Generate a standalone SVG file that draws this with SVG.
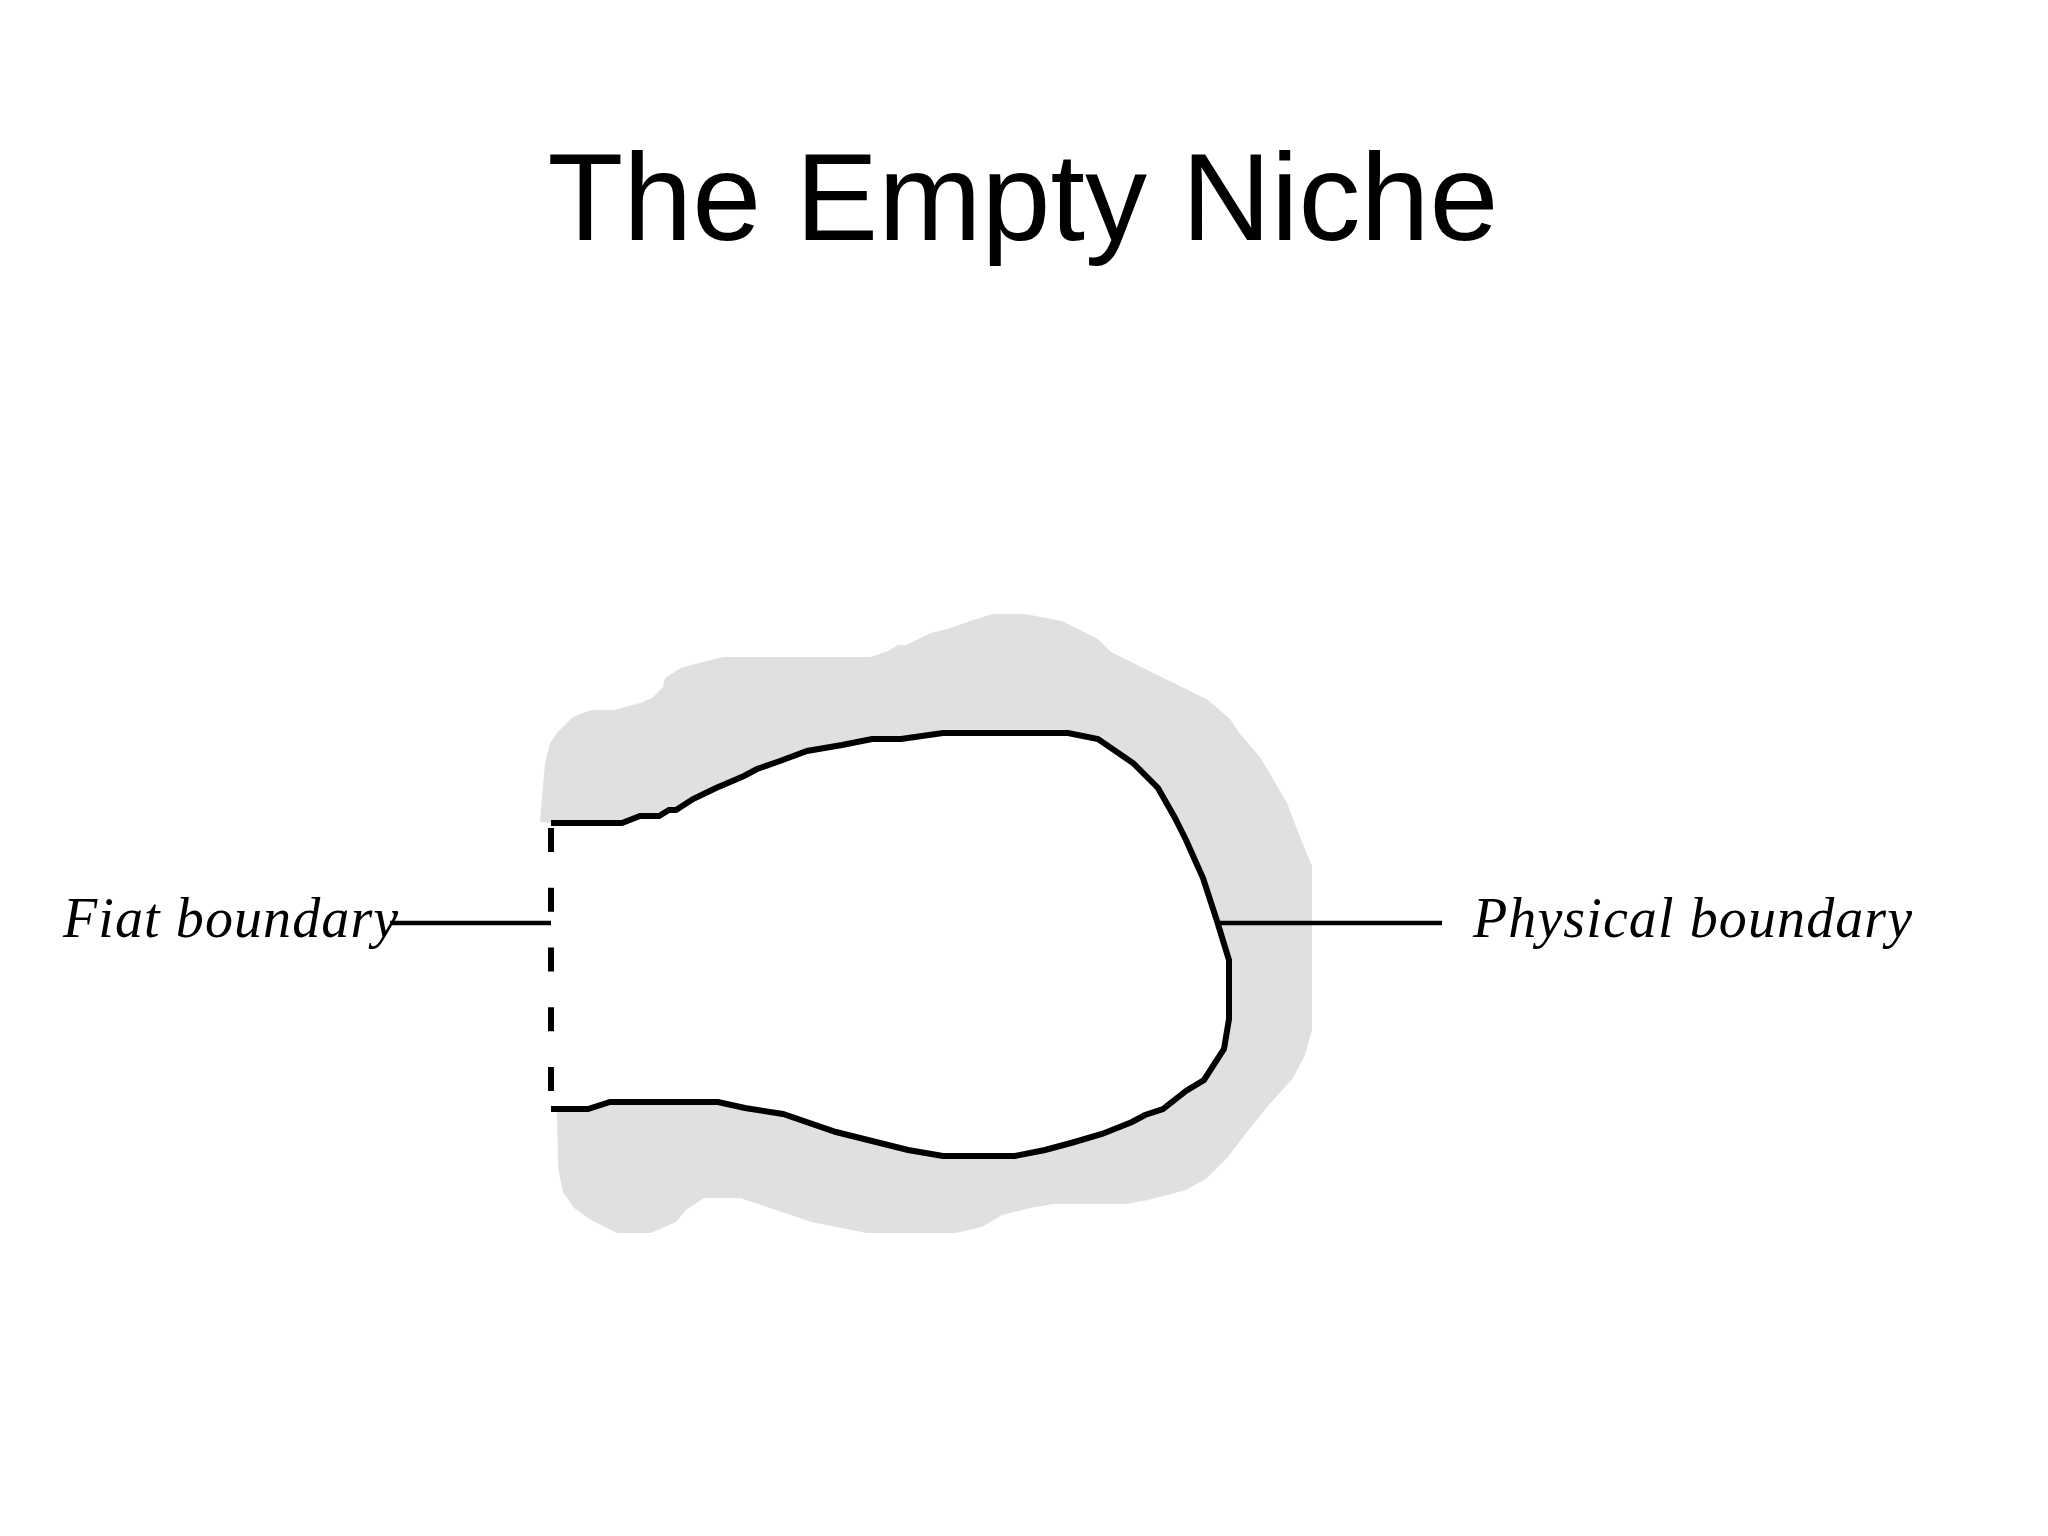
<svg xmlns="http://www.w3.org/2000/svg" width="2048" height="1536" viewBox="0 0 2048 1536">
<style>
.title{font-family:"Liberation Sans",Arial,sans-serif;font-size:124px;fill:#000}
.label{font-family:"Liberation Serif","Times New Roman",serif;font-style:italic;font-size:56px;letter-spacing:1.1px;fill:#000}
.bound{fill:none;stroke:#000;stroke-width:6}
.conn{fill:none;stroke:#000;stroke-width:4.5}
</style>
<rect width="2048" height="1536" fill="#fff"/>
<text class="title" x="1023" y="240" text-anchor="middle">The Empty Niche</text>
<g id="niche">
<polygon fill="#e0e0e0" points="540,822 545,763 550,743 557,733 573,717 591,710 614,710 640,703 652,698 663,687 665,678 681,668 699,663 723,657 870,657 888,651 898,645 906,645 931,633 947,629 973,620 993,614 1025,614 1062,621 1098,639 1111,652 1208,700 1230,719 1240,734 1260,757 1273,779 1287,803 1300,837 1312,866 1312,1030 1305,1055 1293,1078 1267,1107 1247,1132 1227,1158 1207,1178 1186,1190 1148,1200 1127,1204 1053,1204 1030,1208 1002,1215 982,1227 956,1233 867,1233 811,1222 770,1208 740,1198 704,1198 686,1210 676,1222 651,1233 617,1233 591,1220 574,1208 563,1192 558,1167 557,1109 588,1109 610,1102 718,1102 745,1108 783,1114 836,1132 908,1150 943,1156 1015,1156 1045,1150 1071,1143 1102,1134 1132,1122 1145,1115 1163,1109 1186,1091 1204,1080 1224,1049 1229,1019 1229,960 1217,921 1203,878 1186,840 1175,818 1158,788 1133,763 1098,739 1068,733 943,733 901,739 872,739 842,745 807,751 780,761 757,769 744,776 716,788 692,799 676,810 669,810 659,816 640,816 622,823 551,823"/>
<polyline class="bound" points="551,823 622,823 640,816 659,816 669,810 676,810 693,799 716,788 744,776 757,769 780,761 807,751 842,745 872,739 901,739 943,733 1068,733 1098,739 1133,763 1158,788 1175,818 1186,840 1203,878 1217,921 1229,960 1229,1019 1224,1049 1204,1080 1186,1091 1163,1109 1145,1115 1132,1122 1102,1134 1071,1143 1045,1150 1015,1156 943,1156 908,1150 836,1132 783,1114 745,1108 718,1102 610,1102 588,1109 551,1109"/>
<line class="bound" x1="551" y1="828" x2="551" y2="1091" stroke-dasharray="24 35.75"/>
</g>
<g id="fiat-label">
<text class="label" x="63" y="937">Fiat boundary</text>
</g>
<g id="physical-label">
<text class="label" x="1473" y="937">Physical boundary</text>
</g>
<g id="connectors">
<line class="conn" x1="390" y1="923" x2="551" y2="923"/>
<line class="conn" x1="1219" y1="923" x2="1442" y2="923"/>
</g>
</svg>
